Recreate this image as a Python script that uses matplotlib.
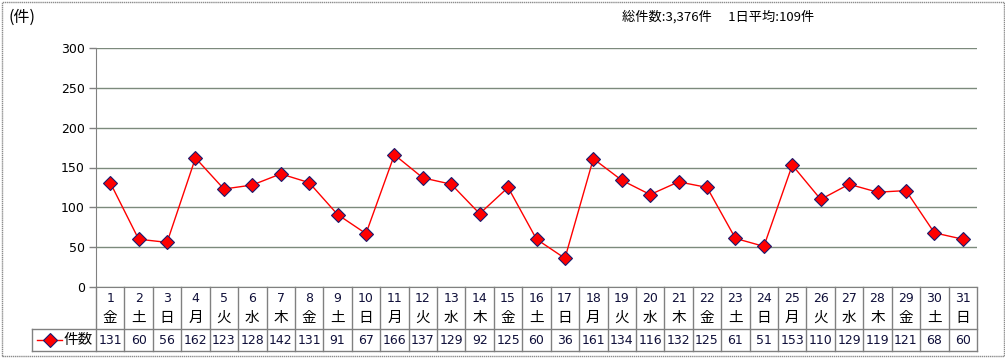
import matplotlib
matplotlib.use("Agg")
import matplotlib.pyplot as plt
from matplotlib.lines import Line2D
from matplotlib.patches import Rectangle
from matplotlib.transforms import blended_transform_factory

plt.rcParams['font.family'] = ['Noto Sans CJK JP', 'DejaVu Sans']

days = list(range(1, 32))
weekdays = list("金土日月火水木金土日月火水木金土日月火水木金土日月火水木金土日")
counts = [131, 60, 56, 162, 123, 128, 142, 131, 91, 67, 166, 137, 129, 92, 125,
          60, 36, 161, 134, 116, 132, 125, 61, 51, 153, 110, 129, 119, 121, 68, 60]
series_name = "件数"
summary = "総件数:3,376件　 1日平均:109件"
unit = "(件)"

W, H = 1005, 358
fig = plt.figure(figsize=(W / 100, H / 100), dpi=100)

def fy(py):
    return 1 - py / H

def fx(px):
    return px / W

left, right, top, bottom = 96, 977, 48, 287
ax = fig.add_axes([fx(left), fy(bottom), fx(right - left), (bottom - top) / H])

grid_c = '#7c8a7c'
line_c = '#808080'

ax.plot(days, counts, color='#ff0000', lw=1, marker='D', ms=7,
        mfc='#ff0000', mec='#1a1a6e', mew=0.8, zorder=3)

ax.set_xlim(0.5, 31.5)
ax.set_ylim(0, 300)
ax.set_yticks(range(0, 301, 50))
ax.tick_params(axis='y', length=5, width=1, color=line_c, labelsize=9, pad=3)
ax.set_xticks([])
for t in ax.get_yticklabels():
    t.set_family(['DejaVu Sans'])
ax.grid(axis='y', color=grid_c, lw=1)
for s in ['top', 'right']:
    ax.spines[s].set_visible(False)
ax.spines['left'].set_color(line_c)
ax.spines['bottom'].set_color(line_c)

# data table below the axis
tr = blended_transform_factory(ax.transData, fig.transFigure)
row1_bot, row2_bot, legend_left = 329, 351, 32
for k in range(32):
    fig.add_artist(Line2D([k + 0.5, k + 0.5], [fy(bottom), fy(row2_bot)],
                          transform=tr, color=line_c, lw=1))
for yy in (row1_bot, row2_bot):
    fig.add_artist(Line2D([fx(legend_left), fx(right)], [fy(yy), fy(yy)],
                          color=line_c, lw=1))
fig.add_artist(Line2D([fx(legend_left), fx(legend_left)], [fy(row1_bot), fy(row2_bot)],
                      color=line_c, lw=1))

for d, wd, v in zip(days, weekdays, counts):
    fig.text(d, fy(298), str(d), transform=tr, ha='center', va='center',
             fontsize=9, color='#10103a', family=['DejaVu Sans'])
    fig.text(d, fy(318), wd, transform=tr, ha='center', va='center',
             fontsize=10.5, color='black')
    fig.text(d, fy(340), str(v), transform=tr, ha='center', va='center',
             fontsize=9, color='#10103a', family=['DejaVu Sans'])

# legend key in table
fig.add_artist(Line2D([fx(37), fx(62)], [fy(340), fy(340)], color='#ff0000', lw=1))
fig.add_artist(Line2D([fx(49.5)], [fy(340)], marker='D', ms=7, mfc='#ff0000',
                      mec='#1a1a6e', mew=0.8, ls='none'))
fig.text(fx(64), fy(340), series_name, ha='left', va='center', fontsize=10.5)

# header texts
fig.text(fx(8), fy(17), unit, ha='left', va='center', fontsize=11.5)
fig.text(fx(622), fy(17), summary, ha='left', va='center', fontsize=9.5)

# outer frame
fig.add_artist(Rectangle((fx(1.5), fy(355.5)), fx(1002), (354) / H,
                         fill=False, ec='#8c8c8c', lw=1, ls=(0, (1, 0.5))))

fig.savefig("out.png", dpi=100)
